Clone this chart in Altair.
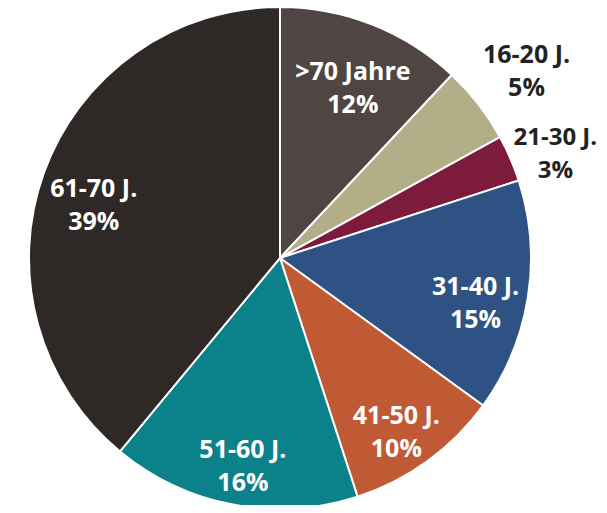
import altair as alt
import pandas as pd

labels = [">70 Jahre", "16-20 J.", "21-30 J.", "31-40 J.", "41-50 J.", "51-60 J.", "61-70 J."]
values = [12, 5, 3, 15, 10, 16, 39]
colors = ["#4f4542", "#b3ae88", "#7d1b3c", "#2e5283", "#c05a35", "#0b8289", "#2e2926"]
outside = [False, True, True, False, False, False, False]

df = pd.DataFrame({
    "label": labels,
    "value": values,
    "order": list(range(len(labels))),
    "outside": outside,
})

base = alt.Chart(df).encode(
    theta=alt.Theta("value:Q", stack=True),
    order=alt.Order("order:Q"),
    x=alt.value(272),
    y=alt.value(250),
)

pie = base.mark_arc(outerRadius=251, stroke="white", strokeWidth=2).encode(
    color=alt.Color("label:N", scale=alt.Scale(domain=labels, range=colors), legend=None)
)

txt = base.transform_calculate(
    lines="[datum.label, datum.value + '%']"
)

font_kw = dict(font="Open Sans", fontWeight="bold", fontSize=25,
               lineHeight=33, baseline="middle", align="center")

inner = txt.mark_text(radius=198, color="white", dy=-2, **font_kw).encode(
    text=alt.condition("!datum.outside", "lines:N", alt.value(""))
)

outer1 = txt.mark_text(radius=312, color="#222222", dy=-12, **font_kw).encode(
    text=alt.condition("datum.label == '16-20 J.'", "lines:N", alt.value(""))
)

outer2 = txt.mark_text(radius=300, color="#222222", dy=-1, fontSize=24,
                       font="Open Sans", fontWeight="bold", lineHeight=33,
                       baseline="middle", align="center").encode(
    text=alt.condition("datum.label == '21-30 J.'", "lines:N", alt.value(""))
)

chart = alt.layer(pie, inner, outer1, outer2).properties(
    width=591, height=497, autosize=alt.AutoSizeParams(type="none"), padding=0
).configure_view(stroke=None)

chart.save("out.html", embed_options={"renderer": "svg", "actions": False})
